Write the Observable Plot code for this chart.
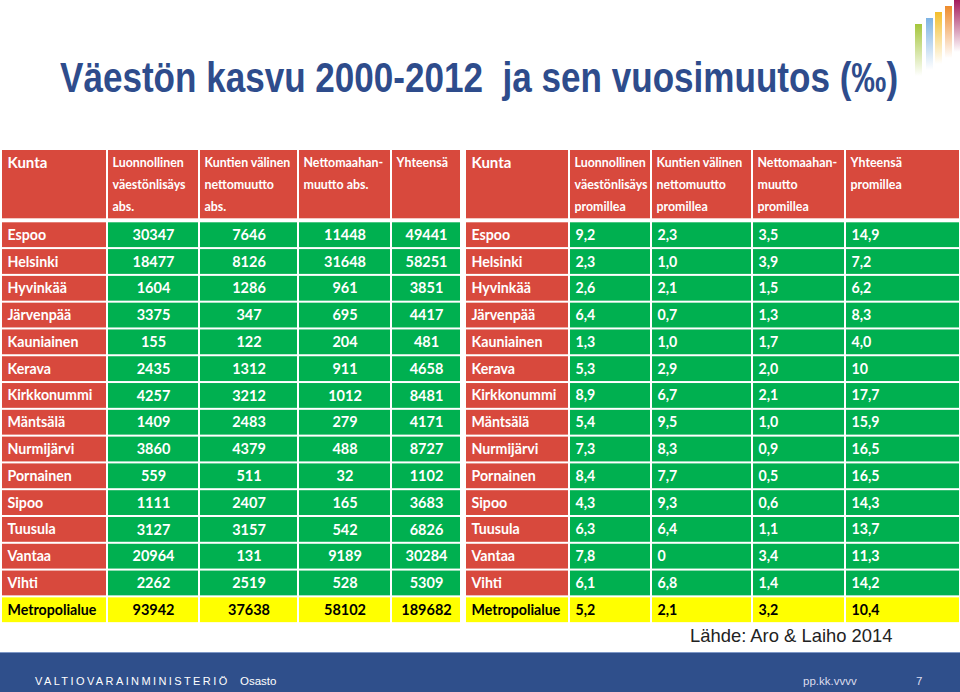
<!DOCTYPE html>
<html><head><meta charset="utf-8">
<script src="https://cdn.jsdelivr.net/npm/d3@7"></script>
<script src="https://cdn.jsdelivr.net/npm/@observablehq/plot@0.6"></script>
<style>
body{margin:0;width:960px;height:692px;position:relative;overflow:hidden;background:#fff;font-family:"Liberation Sans",Arial,sans-serif}
#title{position:absolute;left:60px;top:54px;font-size:42px;line-height:48px;font-weight:bold;color:#2E4C8C;white-space:pre;transform:scaleX(0.835);transform-origin:left top}
#chart{position:absolute;left:0;top:140px}
#source{position:absolute;left:690px;top:626px;font-size:18.4px;line-height:20px;color:#222}
#footer{position:absolute;left:0;top:652px;width:960px;height:40px;background:#2F4F8B;border-top:1px solid #7d97c6;box-sizing:border-box}
.ft{position:absolute;color:#fff;font-size:11.5px;line-height:14px;top:21px}
#vm{left:35px;letter-spacing:2.4px;font-size:11px}
#osasto{left:240px}
#pvm{left:803px;color:#dde}
#sivu{left:916px;color:#dde}
.bar{position:absolute;width:7px;height:52px}
</style></head>
<body>
<div class="bar" style="left:915px;top:24px;background:linear-gradient(#A5C63B,rgba(165,198,59,0))"></div>
<div class="bar" style="left:926px;top:18px;background:linear-gradient(#7DB3E3,rgba(125,179,227,0))"></div>
<div class="bar" style="left:935px;top:12px;background:linear-gradient(#F4BE2C,rgba(244,190,44,0))"></div>
<div class="bar" style="left:945px;top:6px;background:linear-gradient(#EE8B2B,rgba(238,139,43,0))"></div>
<div class="bar" style="left:954px;top:0px;background:linear-gradient(#A4195A,rgba(164,25,90,0))"></div>
<div id="title">Väestön kasvu 2000-2012  ja sen vuosimuutos (‰)</div>
<div id="chart"></div>
<div id="source">Lähde: Aro &amp; Laiho 2014</div>
<div id="footer">
  <div class="ft" id="vm">VALTIOVARAINMINISTERIÖ</div>
  <div class="ft" id="osasto">Osasto</div>
  <div class="ft" id="pvm">pp.kk.vvvv</div>
  <div class="ft" id="sivu">7</div>
</div>
<script>
// ---- data ----
const kunnat = ["Espoo","Helsinki","Hyvinkää","Järvenpää","Kauniainen","Kerava","Kirkkonummi","Mäntsälä","Nurmijärvi","Pornainen","Sipoo","Tuusula","Vantaa","Vihti","Metropolialue"];
const luonnollinenAbs = [30347,18477,1604,3375,155,2435,4257,1409,3860,559,1111,3127,20964,2262,93942];
const kuntienValinenAbs = [7646,8126,1286,347,122,1312,3212,2483,4379,511,2407,3157,131,2519,37638];
const nettomaahanmuuttoAbs = [11448,31648,961,695,204,911,1012,279,488,32,165,542,9189,528,58102];
const yhteensaAbs = [49441,58251,3851,4417,481,4658,8481,4171,8727,1102,3683,6826,30284,5309,189682];
const luonnollinenProm = ["9,2","2,3","2,6","6,4","1,3","5,3","8,9","5,4","7,3","8,4","4,3","6,3","7,8","6,1","5,2"];
const kuntienValinenProm = ["2,3","1,0","2,1","0,7","1,0","2,9","6,7","9,5","8,3","7,7","9,3","6,4","0","6,8","2,1"];
const nettomaahanmuuttoProm = ["3,5","3,9","1,5","1,3","1,7","2,0","2,1","1,0","0,9","0,5","0,6","1,1","3,4","1,4","3,2"];
const yhteensaProm = ["14,9","7,2","6,2","8,3","4,0","10","17,7","15,9","16,5","16,5","14,3","13,7","11,3","14,2","10,4"];
const otsikotAbs = ["Kunta","Luonnollinen\nväestönlisäys\nabs.","Kuntien välinen\nnettomuutto\nabs.","Nettomaahan-\nmuutto abs.","Yhteensä"];
const otsikotProm = ["Kunta","Luonnollinen\nväestönlisäys\npromillea","Kuntien välinen\nnettomuutto\npromillea","Nettomaahan-\nmuutto\npromillea","Yhteensä\npromillea"];

// ---- layout ----
const RED = "#D8493D", GREEN = "#00B050", YELLOW = "#FFFF00";
const edgesL = [1,107,199,298,391,461];
const edgesR = [465,569,651,752,845,960];
const ROW = 26.79, TOP = 81.3, H = 512;
const headerTop = (9 - TOP) / ROW, headerBottom = (79.3 - TOP) / ROW;

const cells = [], heads = [];
[[edgesL, [kunnat,luonnollinenAbs,kuntienValinenAbs,nettomaahanmuuttoAbs,yhteensaAbs], otsikotAbs, true],
 [edgesR, [kunnat,luonnollinenProm,kuntienValinenProm,nettomaahanmuuttoProm,yhteensaProm], otsikotProm, false]]
.forEach(([edges, cols, heads0, centered]) => {
  heads0.forEach((h, c) => heads.push({x1: edges[c], x2: edges[c+1], text: h, kunta: c === 0}));
  kunnat.forEach((k, r) => {
    const last = r === kunnat.length - 1;
    cols.forEach((col, c) => cells.push({
      x1: edges[c], x2: edges[c+1], row: r, text: String(col[r]),
      fill: last ? YELLOW : (c === 0 ? RED : GREEN),
      ink: last ? "#000" : "#fff",
      center: centered && c > 0
    }));
  });
});

const font = {fontWeight: "bold", fontFamily: "Lato, 'Open Sans', sans-serif"};
const plot = Plot.plot({
  width: 960, height: H, margin: 0,
  x: {type: "linear", domain: [0, 960], range: [0, 960], axis: null},
  y: {type: "linear", domain: [-TOP / ROW, (H - TOP) / ROW], range: [0, H], axis: null},
  color: {type: "identity"},
  style: {background: "transparent"},
  marks: [
    Plot.rect(heads, {x1: "x1", x2: "x2", y1: () => headerTop, y2: () => headerBottom, fill: RED, inset: 1}),
    Plot.rect(cells, {x1: "x1", x2: "x2", y1: "row", y2: d => d.row + 1, fill: "fill", inset: 1}),
    Plot.text(heads.filter(d => !d.kunta), {x: "x1", y: () => headerTop, dx: 5, dy: 1.5, text: "text", textAnchor: "start", lineAnchor: "top", lineHeight: 1.78, fontSize: 12.4, fill: "#fff", ...font}),
    Plot.text(heads.filter(d => d.kunta), {x: "x1", y: () => headerTop, dx: 6, dy: 7.5, text: "text", textAnchor: "start", lineAnchor: "top", fontSize: 15, fill: "#fff", ...font}),
    Plot.text(cells.filter(d => d.center), {x: d => (d.x1 + d.x2) / 2, y: d => d.row + 0.5, text: "text", fill: "ink", fontSize: 14.5, ...font}),
    Plot.text(cells.filter(d => !d.center), {x: "x1", y: d => d.row + 0.5, dx: 6, text: "text", textAnchor: "start", fill: "ink", fontSize: 14.2, ...font})
  ]
});
document.getElementById("chart").appendChild(plot);
</script>
</body></html>
